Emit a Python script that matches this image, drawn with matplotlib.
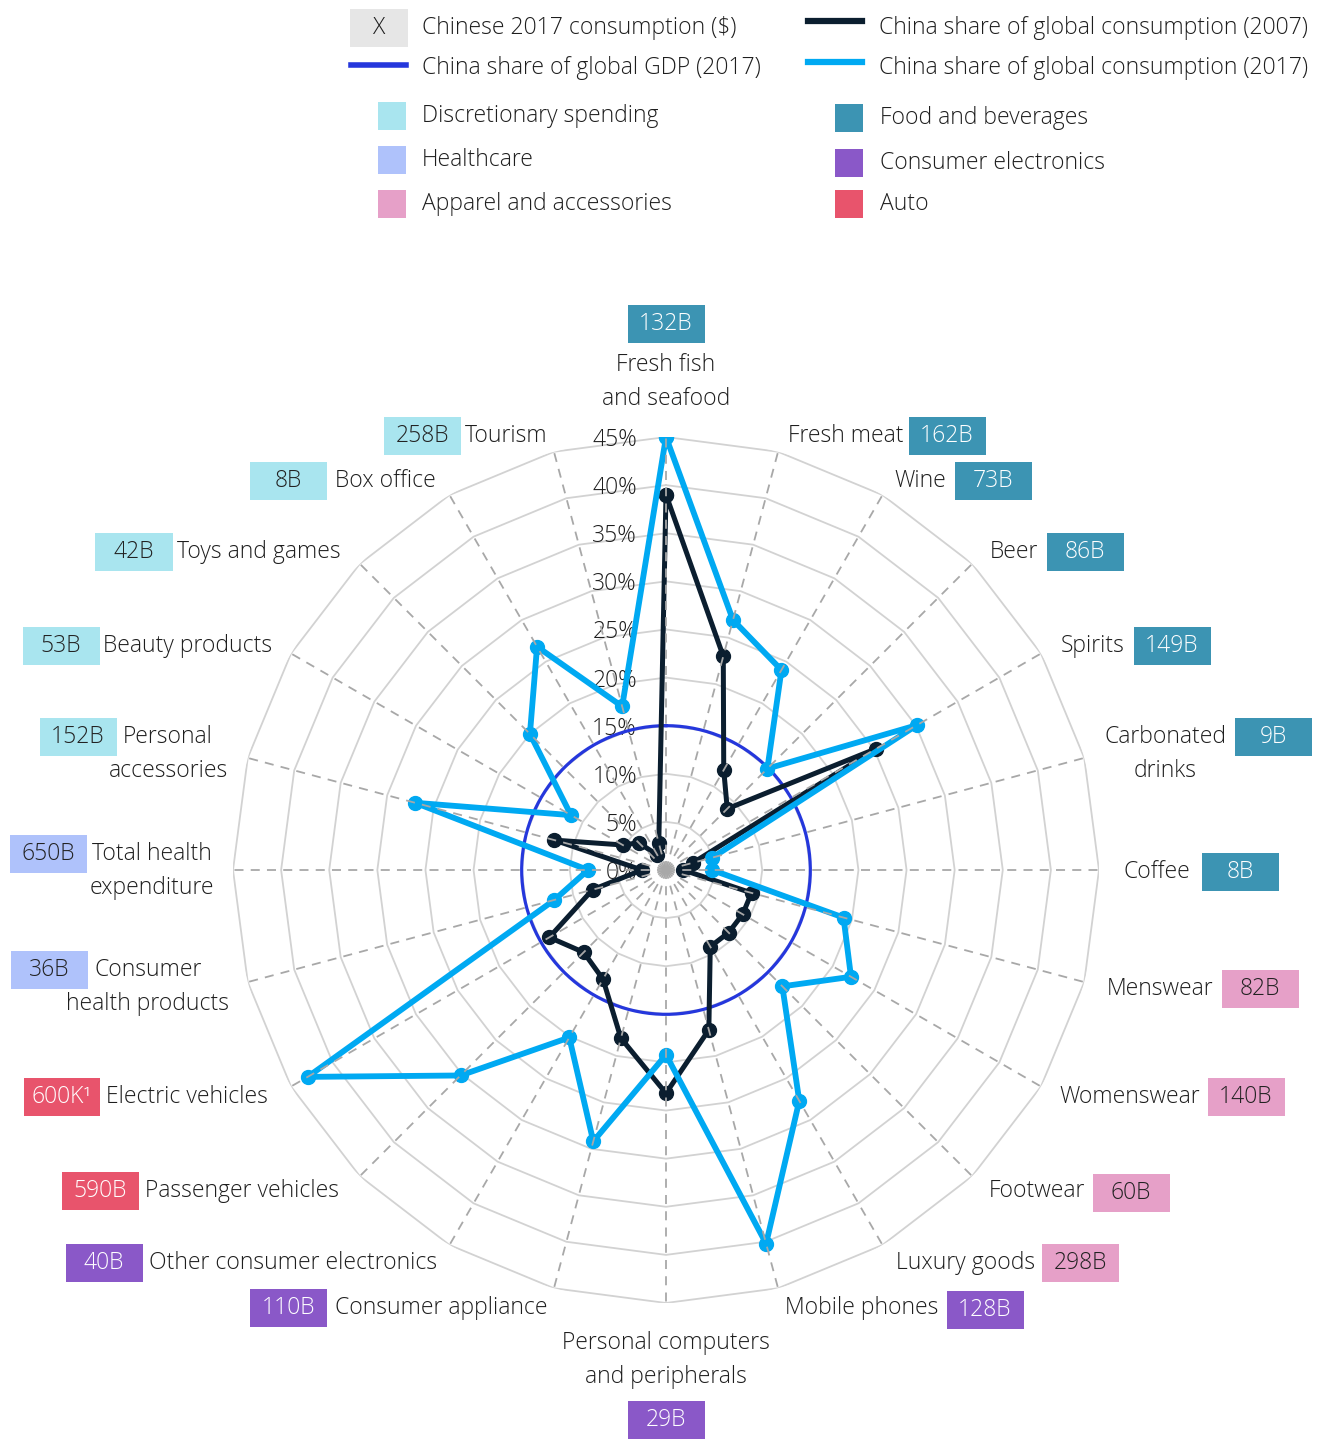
import numpy as np
import matplotlib
matplotlib.use("Agg")
import matplotlib.pyplot as plt
from matplotlib.patches import Rectangle
from matplotlib.lines import Line2D
from matplotlib.transforms import offset_copy

plt.rcParams['font.family'] = ['Open Sans', 'DejaVu Sans']

# ---------------- data ----------------
categories = ["Fresh fish\nand seafood", "Fresh meat", "Wine", "Beer", "Spirits",
              "Carbonated\ndrinks", "Coffee", "Menswear", "Womenswear", "Footwear",
              "Luxury goods", "Mobile phones", "Personal computers\nand peripherals",
              "Consumer appliance", "Other consumer electronics", "Passenger vehicles",
              "Electric vehicles", "Consumer\nhealth products", "Total health\nexpenditure",
              "Personal\naccessories", "Beauty products", "Toys and games", "Box office",
              "Tourism"]
groups = ["Food", "Food", "Food", "Food", "Food", "Food", "Food",
          "Apparel", "Apparel", "Apparel", "Apparel",
          "Electronics", "Electronics", "Electronics", "Electronics",
          "Auto", "Auto", "Health", "Health",
          "Disc", "Disc", "Disc", "Disc", "Disc"]
consumption = ["132B", "162B", "73B", "86B", "149B", "9B", "8B", "82B", "140B", "60B",
               "298B", "128B", "29B", "110B", "40B", "590B", "600K\u00b9", "36B", "650B",
               "152B", "53B", "42B", "8B", "258B"]
share_2017 = [45, 26.9, 24, 14.9, 30.1, 5, 4.8, 19.1, 22.2, 17.1, 27.7, 40.2, 19.2,
              29.2, 20.1, 30.2, 43, 12, 8.1, 27, 11.4, 20, 26.8, 17.6]
share_2007 = [39, 23, 12, 9, 25.2, 2.9, 1.8, 9.2, 9.2, 9.2, 9.2, 17.2, 23.2,
              18.1, 13.1, 12.1, 14, 7.9, 2.5, 12, 5.2, 4, 1.8, 2.9]
gdp_share_2017 = 15
ring_levels = [5, 10, 15, 20, 25, 30, 35, 40, 45]

group_names = ["Discretionary spending", "Healthcare", "Apparel and accessories",
               "Food and beverages", "Consumer electronics", "Auto"]
group_keys = ["Disc", "Health", "Apparel", "Food", "Electronics", "Auto"]

# ---------------- style ----------------
colors = {"Disc": "#a9e5ef", "Health": "#afc2fb", "Apparel": "#e6a0c8",
          "Food": "#3c94b3", "Electronics": "#8a58c8", "Auto": "#e8546c"}
box_text = {"Disc": "#222222", "Health": "#222222", "Apparel": "#222222",
            "Food": "white", "Electronics": "white", "Auto": "white"}
C07 = "#0b1e2f"
C17 = "#00a9f2"
CGDP = "#2537dc"
TXT = "#1e1e1e"
FS = 16.5
FW = 'light'

W, H = 1330, 1439
fig = plt.figure(figsize=(W / 100, H / 100), dpi=100)

def fx(x):
    return x / W

def fy(y):
    return 1 - y / H

# polar axes: centre (666, 870), radius 433 px
cx, cy, R = 666, 870, 433
ax = fig.add_axes([fx(cx - R), fy(cy + R), 2 * R / W, 2 * R / H], projection='polar')
ax.set_theta_zero_location('N')
ax.set_theta_direction(-1)
ax.set_ylim(0, 45)
ax.grid(False)
ax.set_xticks([])
ax.set_yticks([])
ax.spines['polar'].set_visible(False)
ax.patch.set_alpha(0)

n = len(categories)
theta = np.arange(n) * 2 * np.pi / n
theta_c = np.append(theta, theta[0])

# polygon rings
for lv in ring_levels:
    ax.plot(theta_c, [lv] * (n + 1), color="#d2d2d2", lw=1.3, zorder=1)

# ring labels
toff = offset_copy(ax.transData, fig=fig, x=-29, y=-3, units='dots')
for lv in [0] + ring_levels:
    ax.text(0, lv, f"{lv}%", transform=toff, ha='right', va='center',
            fontsize=FS, color=TXT, fontweight=FW, zorder=2)

# GDP circle
tt = np.linspace(0, 2 * np.pi, 400)
ax.plot(tt, [gdp_share_2017] * len(tt), color=CGDP, lw=2.3, zorder=3)

# series
v07 = share_2007 + share_2007[:1]
v17 = share_2017 + share_2017[:1]
ax.plot(theta_c, v07, color=C07, lw=3.6, marker='o', ms=10, zorder=4,
        solid_joinstyle='round')
ax.plot(theta_c, v17, color=C17, lw=4.2, marker='o', ms=10, zorder=5,
        solid_joinstyle='round')

# dashed spokes on top
for t in theta:
    ax.plot([t, t], [0, 45], color="#a8a8a8", lw=1.3, ls=(0, (5, 4)), zorder=6)

# ---------------- category labels ----------------
# (box centre x, box centre y, text x, text y, text ha)
label_pos = [
    (666, 324, 666, 382, 'center'),
    (947, 436, 903, 436, 'right'),
    (993, 481, 946, 481, 'right'),
    (1085, 552, 1038, 552, 'right'),
    (1172, 646, 1125, 646, 'right'),
    (1273, 737, 1165, 754, 'center'),
    (1240, 872, 1190, 872, 'right'),
    (1260, 989, 1213, 989, 'right'),
    (1246, 1097, 1200, 1097, 'right'),
    (1131, 1193, 1085, 1191, 'right'),
    (1080, 1263, 1035, 1263, 'right'),
    (985, 1310, 938, 1308, 'right'),
    (666, 1420, 666, 1360, 'center'),
    (289, 1308, 335, 1308, 'left'),
    (104, 1263, 149, 1263, 'left'),
    (100, 1191, 145, 1191, 'left'),
    (62, 1097, 106, 1097, 'left'),
    (49, 970, 148, 987, 'center'),
    (48, 854, 152, 871, 'center'),
    (78, 737, 168, 754, 'center'),
    (61, 646, 103, 646, 'left'),
    (134, 552, 177, 552, 'left'),
    (288, 481, 335, 481, 'left'),
    (422, 436, 465, 436, 'left'),
]
BW, BH = 77, 38
for cat, grp, val, (bx, by, tx, ty, ha) in zip(categories, groups, consumption, label_pos):
    fig.add_artist(Rectangle((fx(bx - BW / 2), fy(by + BH / 2)), BW / W, BH / H,
                             transform=fig.transFigure, facecolor=colors[grp],
                             edgecolor='none'))
    fig.text(fx(bx), fy(by), val, ha='center', va='center', fontsize=FS,
             fontweight=FW, color=box_text[grp])
    fig.text(fx(tx), fy(ty), cat, ha=ha, va='center', fontsize=FS, fontweight=FW,
             color=TXT, linespacing=1.6, multialignment='center')

# ---------------- legend ----------------
fig.add_artist(Rectangle((fx(350), fy(47)), 58 / W, 38 / H, transform=fig.transFigure,
                         facecolor="#e6e6e6", edgecolor='none'))
fig.text(fx(379), fy(28), "X", ha='center', va='center', fontsize=FS, fontweight=FW,
         color=TXT)
fig.text(fx(422), fy(28), "Chinese 2017 consumption ($)", ha='left', va='center',
         fontsize=FS, fontweight=FW, color=TXT)
fig.add_artist(Line2D([fx(351), fx(406)], [fy(65), fy(65)], color=CGDP, lw=4,
                      transform=fig.transFigure))
fig.text(fx(422), fy(68), "China share of global GDP (2017)", ha='left', va='center',
         fontsize=FS, fontweight=FW, color=TXT)
fig.add_artist(Line2D([fx(808), fx(862)], [fy(21), fy(21)], color=C07, lw=4.5,
                      transform=fig.transFigure))
fig.text(fx(879), fy(28), "China share of global consumption (2007)", ha='left',
         va='center', fontsize=FS, fontweight=FW, color=TXT)
fig.add_artist(Line2D([fx(808), fx(862)], [fy(62), fy(62)], color=C17, lw=4.5,
                      transform=fig.transFigure))
fig.text(fx(879), fy(68), "China share of global consumption (2017)", ha='left',
         va='center', fontsize=FS, fontweight=FW, color=TXT)

sq_pos = [(392, 116, 422), (392, 160, 422), (392, 204, 422),
          (849, 118, 880), (849, 163, 880), (849, 204, 880)]
for key, name, (sx, sy, tx) in zip(group_keys, group_names, sq_pos):
    fig.add_artist(Rectangle((fx(sx - 14), fy(sy + 14)), 28 / W, 28 / H,
                             transform=fig.transFigure, facecolor=colors[key],
                             edgecolor='none'))
    fig.text(fx(tx), fy(sy), name, ha='left', va='center', fontsize=FS, fontweight=FW,
             color=TXT)

fig.savefig("out.png", dpi=100, facecolor='white')
